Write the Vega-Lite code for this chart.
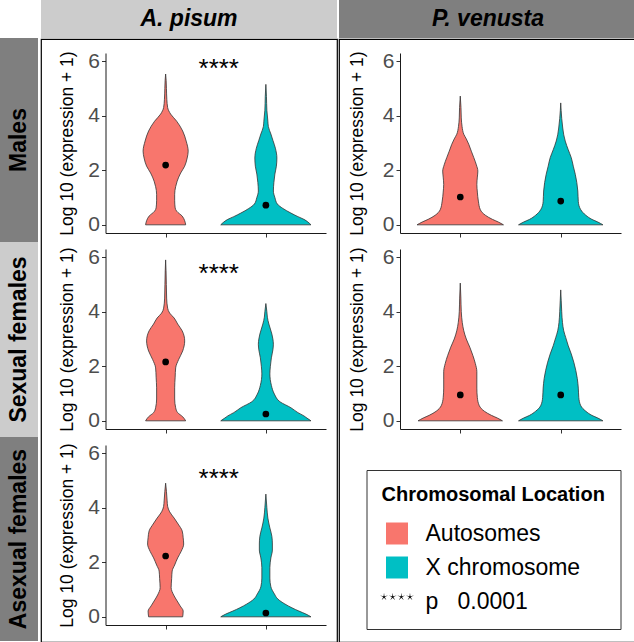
{
  "$schema": "https://vega.github.io/schema/vega-lite/v6.json",
  "padding": 0,
  "autosize": {"type": "pad"},
  "config": {
    "font": "Liberation Sans",
    "view": {"stroke": null},
    "axis": {"grid": false}
  },
  "datasets": {
    "violins": [
      {"sp":"A. pisum","sex":"Males","chrom":"Autosomes","v":0,"w":0.40},
      {"sp":"A. pisum","sex":"Males","chrom":"Autosomes","v":0.15,"w":0.38},
      {"sp":"A. pisum","sex":"Males","chrom":"Autosomes","v":0.32,"w":0.33},
      {"sp":"A. pisum","sex":"Males","chrom":"Autosomes","v":0.5,"w":0.22},
      {"sp":"A. pisum","sex":"Males","chrom":"Autosomes","v":0.62,"w":0.19},
      {"sp":"A. pisum","sex":"Males","chrom":"Autosomes","v":0.9,"w":0.18},
      {"sp":"A. pisum","sex":"Males","chrom":"Autosomes","v":1.12,"w":0.18},
      {"sp":"A. pisum","sex":"Males","chrom":"Autosomes","v":1.4,"w":0.20},
      {"sp":"A. pisum","sex":"Males","chrom":"Autosomes","v":1.6,"w":0.23},
      {"sp":"A. pisum","sex":"Males","chrom":"Autosomes","v":1.9,"w":0.30},
      {"sp":"A. pisum","sex":"Males","chrom":"Autosomes","v":2.15,"w":0.38},
      {"sp":"A. pisum","sex":"Males","chrom":"Autosomes","v":2.45,"w":0.43},
      {"sp":"A. pisum","sex":"Males","chrom":"Autosomes","v":2.7,"w":0.45},
      {"sp":"A. pisum","sex":"Males","chrom":"Autosomes","v":3.07,"w":0.41},
      {"sp":"A. pisum","sex":"Males","chrom":"Autosomes","v":3.44,"w":0.34},
      {"sp":"A. pisum","sex":"Males","chrom":"Autosomes","v":3.8,"w":0.22},
      {"sp":"A. pisum","sex":"Males","chrom":"Autosomes","v":4.06,"w":0.10},
      {"sp":"A. pisum","sex":"Males","chrom":"Autosomes","v":4.3,"w":0.04},
      {"sp":"A. pisum","sex":"Males","chrom":"Autosomes","v":4.6,"w":0.024},
      {"sp":"A. pisum","sex":"Males","chrom":"Autosomes","v":5.0,"w":0.016},
      {"sp":"A. pisum","sex":"Males","chrom":"Autosomes","v":5.3,"w":0.01},
      {"sp":"A. pisum","sex":"Males","chrom":"Autosomes","v":5.53,"w":0},

      {"sp":"A. pisum","sex":"Males","chrom":"X chromosome","v":0,"w":0.90},
      {"sp":"A. pisum","sex":"Males","chrom":"X chromosome","v":0.1,"w":0.84},
      {"sp":"A. pisum","sex":"Males","chrom":"X chromosome","v":0.2,"w":0.76},
      {"sp":"A. pisum","sex":"Males","chrom":"X chromosome","v":0.3,"w":0.64},
      {"sp":"A. pisum","sex":"Males","chrom":"X chromosome","v":0.43,"w":0.50},
      {"sp":"A. pisum","sex":"Males","chrom":"X chromosome","v":0.6,"w":0.34},
      {"sp":"A. pisum","sex":"Males","chrom":"X chromosome","v":0.76,"w":0.23},
      {"sp":"A. pisum","sex":"Males","chrom":"X chromosome","v":1.0,"w":0.18},
      {"sp":"A. pisum","sex":"Males","chrom":"X chromosome","v":1.24,"w":0.15},
      {"sp":"A. pisum","sex":"Males","chrom":"X chromosome","v":1.55,"w":0.16},
      {"sp":"A. pisum","sex":"Males","chrom":"X chromosome","v":1.86,"w":0.18},
      {"sp":"A. pisum","sex":"Males","chrom":"X chromosome","v":2.15,"w":0.21},
      {"sp":"A. pisum","sex":"Males","chrom":"X chromosome","v":2.45,"w":0.22},
      {"sp":"A. pisum","sex":"Males","chrom":"X chromosome","v":2.81,"w":0.19},
      {"sp":"A. pisum","sex":"Males","chrom":"X chromosome","v":3.1,"w":0.14},
      {"sp":"A. pisum","sex":"Males","chrom":"X chromosome","v":3.33,"w":0.10},
      {"sp":"A. pisum","sex":"Males","chrom":"X chromosome","v":3.6,"w":0.05},
      {"sp":"A. pisum","sex":"Males","chrom":"X chromosome","v":3.8,"w":0.04},
      {"sp":"A. pisum","sex":"Males","chrom":"X chromosome","v":4.2,"w":0.02},
      {"sp":"A. pisum","sex":"Males","chrom":"X chromosome","v":4.7,"w":0.012},
      {"sp":"A. pisum","sex":"Males","chrom":"X chromosome","v":5.15,"w":0},

      {"sp":"A. pisum","sex":"Sexual females","chrom":"Autosomes","v":0,"w":0.40},
      {"sp":"A. pisum","sex":"Sexual females","chrom":"Autosomes","v":0.15,"w":0.34},
      {"sp":"A. pisum","sex":"Sexual females","chrom":"Autosomes","v":0.3,"w":0.24},
      {"sp":"A. pisum","sex":"Sexual females","chrom":"Autosomes","v":0.48,"w":0.20},
      {"sp":"A. pisum","sex":"Sexual females","chrom":"Autosomes","v":0.8,"w":0.18},
      {"sp":"A. pisum","sex":"Sexual females","chrom":"Autosomes","v":1.21,"w":0.18},
      {"sp":"A. pisum","sex":"Sexual females","chrom":"Autosomes","v":1.6,"w":0.19},
      {"sp":"A. pisum","sex":"Sexual females","chrom":"Autosomes","v":1.94,"w":0.20},
      {"sp":"A. pisum","sex":"Sexual females","chrom":"Autosomes","v":2.25,"w":0.26},
      {"sp":"A. pisum","sex":"Sexual females","chrom":"Autosomes","v":2.56,"w":0.34},
      {"sp":"A. pisum","sex":"Sexual females","chrom":"Autosomes","v":2.93,"w":0.38},
      {"sp":"A. pisum","sex":"Sexual females","chrom":"Autosomes","v":3.3,"w":0.33},
      {"sp":"A. pisum","sex":"Sexual females","chrom":"Autosomes","v":3.55,"w":0.24},
      {"sp":"A. pisum","sex":"Sexual females","chrom":"Autosomes","v":3.77,"w":0.17},
      {"sp":"A. pisum","sex":"Sexual females","chrom":"Autosomes","v":3.95,"w":0.08},
      {"sp":"A. pisum","sex":"Sexual females","chrom":"Autosomes","v":4.13,"w":0.04},
      {"sp":"A. pisum","sex":"Sexual females","chrom":"Autosomes","v":4.5,"w":0.02},
      {"sp":"A. pisum","sex":"Sexual females","chrom":"Autosomes","v":5.0,"w":0.014},
      {"sp":"A. pisum","sex":"Sexual females","chrom":"Autosomes","v":5.5,"w":0.008},
      {"sp":"A. pisum","sex":"Sexual females","chrom":"Autosomes","v":5.9,"w":0},

      {"sp":"A. pisum","sex":"Sexual females","chrom":"X chromosome","v":0,"w":0.90},
      {"sp":"A. pisum","sex":"Sexual females","chrom":"X chromosome","v":0.1,"w":0.82},
      {"sp":"A. pisum","sex":"Sexual females","chrom":"X chromosome","v":0.18,"w":0.76},
      {"sp":"A. pisum","sex":"Sexual females","chrom":"X chromosome","v":0.3,"w":0.64},
      {"sp":"A. pisum","sex":"Sexual females","chrom":"X chromosome","v":0.48,"w":0.50},
      {"sp":"A. pisum","sex":"Sexual females","chrom":"X chromosome","v":0.7,"w":0.28},
      {"sp":"A. pisum","sex":"Sexual females","chrom":"X chromosome","v":0.98,"w":0.17},
      {"sp":"A. pisum","sex":"Sexual females","chrom":"X chromosome","v":1.3,"w":0.11},
      {"sp":"A. pisum","sex":"Sexual females","chrom":"X chromosome","v":1.72,"w":0.08},
      {"sp":"A. pisum","sex":"Sexual females","chrom":"X chromosome","v":2.0,"w":0.09},
      {"sp":"A. pisum","sex":"Sexual females","chrom":"X chromosome","v":2.31,"w":0.11},
      {"sp":"A. pisum","sex":"Sexual females","chrom":"X chromosome","v":2.6,"w":0.14},
      {"sp":"A. pisum","sex":"Sexual females","chrom":"X chromosome","v":2.81,"w":0.15},
      {"sp":"A. pisum","sex":"Sexual females","chrom":"X chromosome","v":3.0,"w":0.14},
      {"sp":"A. pisum","sex":"Sexual females","chrom":"X chromosome","v":3.18,"w":0.12},
      {"sp":"A. pisum","sex":"Sexual females","chrom":"X chromosome","v":3.55,"w":0.06},
      {"sp":"A. pisum","sex":"Sexual females","chrom":"X chromosome","v":3.8,"w":0.03},
      {"sp":"A. pisum","sex":"Sexual females","chrom":"X chromosome","v":4.0,"w":0.02},
      {"sp":"A. pisum","sex":"Sexual females","chrom":"X chromosome","v":4.3,"w":0},

      {"sp":"A. pisum","sex":"Asexual females","chrom":"Autosomes","v":0,"w":0.34},
      {"sp":"A. pisum","sex":"Asexual females","chrom":"Autosomes","v":0.21,"w":0.35},
      {"sp":"A. pisum","sex":"Asexual females","chrom":"Autosomes","v":0.4,"w":0.29},
      {"sp":"A. pisum","sex":"Asexual females","chrom":"Autosomes","v":0.58,"w":0.23},
      {"sp":"A. pisum","sex":"Asexual females","chrom":"Autosomes","v":0.8,"w":0.16},
      {"sp":"A. pisum","sex":"Asexual females","chrom":"Autosomes","v":1.07,"w":0.11},
      {"sp":"A. pisum","sex":"Asexual females","chrom":"Autosomes","v":1.4,"w":0.12},
      {"sp":"A. pisum","sex":"Asexual females","chrom":"Autosomes","v":1.68,"w":0.13},
      {"sp":"A. pisum","sex":"Asexual females","chrom":"Autosomes","v":1.9,"w":0.18},
      {"sp":"A. pisum","sex":"Asexual females","chrom":"Autosomes","v":2.16,"w":0.24},
      {"sp":"A. pisum","sex":"Asexual females","chrom":"Autosomes","v":2.4,"w":0.31},
      {"sp":"A. pisum","sex":"Asexual females","chrom":"Autosomes","v":2.67,"w":0.36},
      {"sp":"A. pisum","sex":"Asexual females","chrom":"Autosomes","v":2.9,"w":0.35},
      {"sp":"A. pisum","sex":"Asexual females","chrom":"Autosomes","v":3.15,"w":0.33},
      {"sp":"A. pisum","sex":"Asexual females","chrom":"Autosomes","v":3.4,"w":0.25},
      {"sp":"A. pisum","sex":"Asexual females","chrom":"Autosomes","v":3.62,"w":0.17},
      {"sp":"A. pisum","sex":"Asexual females","chrom":"Autosomes","v":3.85,"w":0.08},
      {"sp":"A. pisum","sex":"Asexual females","chrom":"Autosomes","v":4.05,"w":0.04},
      {"sp":"A. pisum","sex":"Asexual females","chrom":"Autosomes","v":4.25,"w":0.03},
      {"sp":"A. pisum","sex":"Asexual females","chrom":"Autosomes","v":4.6,"w":0.016},
      {"sp":"A. pisum","sex":"Asexual females","chrom":"Autosomes","v":4.9,"w":0},

      {"sp":"A. pisum","sex":"Asexual females","chrom":"X chromosome","v":0,"w":0.90},
      {"sp":"A. pisum","sex":"Asexual females","chrom":"X chromosome","v":0.1,"w":0.80},
      {"sp":"A. pisum","sex":"Asexual females","chrom":"X chromosome","v":0.21,"w":0.66},
      {"sp":"A. pisum","sex":"Asexual females","chrom":"X chromosome","v":0.33,"w":0.52},
      {"sp":"A. pisum","sex":"Asexual females","chrom":"X chromosome","v":0.47,"w":0.38},
      {"sp":"A. pisum","sex":"Asexual females","chrom":"X chromosome","v":0.65,"w":0.24},
      {"sp":"A. pisum","sex":"Asexual females","chrom":"X chromosome","v":0.84,"w":0.17},
      {"sp":"A. pisum","sex":"Asexual females","chrom":"X chromosome","v":1.1,"w":0.10},
      {"sp":"A. pisum","sex":"Asexual females","chrom":"X chromosome","v":1.42,"w":0.08},
      {"sp":"A. pisum","sex":"Asexual females","chrom":"X chromosome","v":1.8,"w":0.08},
      {"sp":"A. pisum","sex":"Asexual females","chrom":"X chromosome","v":2.16,"w":0.10},
      {"sp":"A. pisum","sex":"Asexual females","chrom":"X chromosome","v":2.45,"w":0.13},
      {"sp":"A. pisum","sex":"Asexual females","chrom":"X chromosome","v":2.67,"w":0.13},
      {"sp":"A. pisum","sex":"Asexual females","chrom":"X chromosome","v":2.95,"w":0.12},
      {"sp":"A. pisum","sex":"Asexual females","chrom":"X chromosome","v":3.26,"w":0.08},
      {"sp":"A. pisum","sex":"Asexual females","chrom":"X chromosome","v":3.62,"w":0.04},
      {"sp":"A. pisum","sex":"Asexual females","chrom":"X chromosome","v":4.0,"w":0.02},
      {"sp":"A. pisum","sex":"Asexual females","chrom":"X chromosome","v":4.5,"w":0},

      {"sp":"P. venusta","sex":"Males","chrom":"Autosomes","v":0,"w":0.86},
      {"sp":"P. venusta","sex":"Males","chrom":"Autosomes","v":0.1,"w":0.76},
      {"sp":"P. venusta","sex":"Males","chrom":"Autosomes","v":0.2,"w":0.64},
      {"sp":"P. venusta","sex":"Males","chrom":"Autosomes","v":0.35,"w":0.50},
      {"sp":"P. venusta","sex":"Males","chrom":"Autosomes","v":0.55,"w":0.40},
      {"sp":"P. venusta","sex":"Males","chrom":"Autosomes","v":0.87,"w":0.36},
      {"sp":"P. venusta","sex":"Males","chrom":"Autosomes","v":1.2,"w":0.34},
      {"sp":"P. venusta","sex":"Males","chrom":"Autosomes","v":1.48,"w":0.33},
      {"sp":"P. venusta","sex":"Males","chrom":"Autosomes","v":1.75,"w":0.34},
      {"sp":"P. venusta","sex":"Males","chrom":"Autosomes","v":1.97,"w":0.35},
      {"sp":"P. venusta","sex":"Males","chrom":"Autosomes","v":2.2,"w":0.32},
      {"sp":"P. venusta","sex":"Males","chrom":"Autosomes","v":2.46,"w":0.27},
      {"sp":"P. venusta","sex":"Males","chrom":"Autosomes","v":2.7,"w":0.22},
      {"sp":"P. venusta","sex":"Males","chrom":"Autosomes","v":2.95,"w":0.17},
      {"sp":"P. venusta","sex":"Males","chrom":"Autosomes","v":3.15,"w":0.12},
      {"sp":"P. venusta","sex":"Males","chrom":"Autosomes","v":3.32,"w":0.07},
      {"sp":"P. venusta","sex":"Males","chrom":"Autosomes","v":3.6,"w":0.036},
      {"sp":"P. venusta","sex":"Males","chrom":"Autosomes","v":3.92,"w":0.02},
      {"sp":"P. venusta","sex":"Males","chrom":"Autosomes","v":4.3,"w":0.014},
      {"sp":"P. venusta","sex":"Males","chrom":"Autosomes","v":4.72,"w":0},

      {"sp":"P. venusta","sex":"Males","chrom":"X chromosome","v":0,"w":0.84},
      {"sp":"P. venusta","sex":"Males","chrom":"X chromosome","v":0.1,"w":0.74},
      {"sp":"P. venusta","sex":"Males","chrom":"X chromosome","v":0.2,"w":0.62},
      {"sp":"P. venusta","sex":"Males","chrom":"X chromosome","v":0.35,"w":0.50},
      {"sp":"P. venusta","sex":"Males","chrom":"X chromosome","v":0.55,"w":0.40},
      {"sp":"P. venusta","sex":"Males","chrom":"X chromosome","v":0.85,"w":0.35},
      {"sp":"P. venusta","sex":"Males","chrom":"X chromosome","v":1.24,"w":0.34},
      {"sp":"P. venusta","sex":"Males","chrom":"X chromosome","v":1.55,"w":0.32},
      {"sp":"P. venusta","sex":"Males","chrom":"X chromosome","v":1.85,"w":0.29},
      {"sp":"P. venusta","sex":"Males","chrom":"X chromosome","v":2.15,"w":0.25},
      {"sp":"P. venusta","sex":"Males","chrom":"X chromosome","v":2.46,"w":0.21},
      {"sp":"P. venusta","sex":"Males","chrom":"X chromosome","v":2.75,"w":0.15},
      {"sp":"P. venusta","sex":"Males","chrom":"X chromosome","v":3.07,"w":0.09},
      {"sp":"P. venusta","sex":"Males","chrom":"X chromosome","v":3.3,"w":0.06},
      {"sp":"P. venusta","sex":"Males","chrom":"X chromosome","v":3.55,"w":0.04},
      {"sp":"P. venusta","sex":"Males","chrom":"X chromosome","v":3.9,"w":0.02},
      {"sp":"P. venusta","sex":"Males","chrom":"X chromosome","v":4.47,"w":0},

      {"sp":"P. venusta","sex":"Sexual females","chrom":"Autosomes","v":0,"w":0.84},
      {"sp":"P. venusta","sex":"Sexual females","chrom":"Autosomes","v":0.1,"w":0.74},
      {"sp":"P. venusta","sex":"Sexual females","chrom":"Autosomes","v":0.2,"w":0.62},
      {"sp":"P. venusta","sex":"Sexual females","chrom":"Autosomes","v":0.35,"w":0.48},
      {"sp":"P. venusta","sex":"Sexual females","chrom":"Autosomes","v":0.55,"w":0.38},
      {"sp":"P. venusta","sex":"Sexual females","chrom":"Autosomes","v":0.85,"w":0.34},
      {"sp":"P. venusta","sex":"Sexual females","chrom":"Autosomes","v":1.2,"w":0.33},
      {"sp":"P. venusta","sex":"Sexual females","chrom":"Autosomes","v":1.5,"w":0.33},
      {"sp":"P. venusta","sex":"Sexual females","chrom":"Autosomes","v":1.8,"w":0.33},
      {"sp":"P. venusta","sex":"Sexual females","chrom":"Autosomes","v":2.1,"w":0.30},
      {"sp":"P. venusta","sex":"Sexual females","chrom":"Autosomes","v":2.4,"w":0.25},
      {"sp":"P. venusta","sex":"Sexual females","chrom":"Autosomes","v":2.7,"w":0.19},
      {"sp":"P. venusta","sex":"Sexual females","chrom":"Autosomes","v":3.0,"w":0.12},
      {"sp":"P. venusta","sex":"Sexual females","chrom":"Autosomes","v":3.3,"w":0.07},
      {"sp":"P. venusta","sex":"Sexual females","chrom":"Autosomes","v":3.6,"w":0.04},
      {"sp":"P. venusta","sex":"Sexual females","chrom":"Autosomes","v":4.0,"w":0.02},
      {"sp":"P. venusta","sex":"Sexual females","chrom":"Autosomes","v":4.5,"w":0.012},
      {"sp":"P. venusta","sex":"Sexual females","chrom":"Autosomes","v":5.05,"w":0},

      {"sp":"P. venusta","sex":"Sexual females","chrom":"X chromosome","v":0,"w":0.84},
      {"sp":"P. venusta","sex":"Sexual females","chrom":"X chromosome","v":0.1,"w":0.74},
      {"sp":"P. venusta","sex":"Sexual females","chrom":"X chromosome","v":0.2,"w":0.62},
      {"sp":"P. venusta","sex":"Sexual females","chrom":"X chromosome","v":0.35,"w":0.50},
      {"sp":"P. venusta","sex":"Sexual females","chrom":"X chromosome","v":0.55,"w":0.40},
      {"sp":"P. venusta","sex":"Sexual females","chrom":"X chromosome","v":0.85,"w":0.36},
      {"sp":"P. venusta","sex":"Sexual females","chrom":"X chromosome","v":1.2,"w":0.35},
      {"sp":"P. venusta","sex":"Sexual females","chrom":"X chromosome","v":1.55,"w":0.33},
      {"sp":"P. venusta","sex":"Sexual females","chrom":"X chromosome","v":1.85,"w":0.30},
      {"sp":"P. venusta","sex":"Sexual females","chrom":"X chromosome","v":2.15,"w":0.26},
      {"sp":"P. venusta","sex":"Sexual females","chrom":"X chromosome","v":2.45,"w":0.21},
      {"sp":"P. venusta","sex":"Sexual females","chrom":"X chromosome","v":2.75,"w":0.15},
      {"sp":"P. venusta","sex":"Sexual females","chrom":"X chromosome","v":3.05,"w":0.10},
      {"sp":"P. venusta","sex":"Sexual females","chrom":"X chromosome","v":3.3,"w":0.06},
      {"sp":"P. venusta","sex":"Sexual females","chrom":"X chromosome","v":3.6,"w":0.035},
      {"sp":"P. venusta","sex":"Sexual females","chrom":"X chromosome","v":4.0,"w":0.02},
      {"sp":"P. venusta","sex":"Sexual females","chrom":"X chromosome","v":4.4,"w":0.01},
      {"sp":"P. venusta","sex":"Sexual females","chrom":"X chromosome","v":4.8,"w":0}
    ],
    "medians": [
      {"sp":"A. pisum","sex":"Males","chrom":"Autosomes","v":2.19},
      {"sp":"A. pisum","sex":"Males","chrom":"X chromosome","v":0.72},
      {"sp":"A. pisum","sex":"Sexual females","chrom":"Autosomes","v":2.16},
      {"sp":"A. pisum","sex":"Sexual females","chrom":"X chromosome","v":0.25},
      {"sp":"A. pisum","sex":"Asexual females","chrom":"Autosomes","v":2.23},
      {"sp":"A. pisum","sex":"Asexual females","chrom":"X chromosome","v":0.14},
      {"sp":"P. venusta","sex":"Males","chrom":"Autosomes","v":1.02},
      {"sp":"P. venusta","sex":"Males","chrom":"X chromosome","v":0.87},
      {"sp":"P. venusta","sex":"Sexual females","chrom":"Autosomes","v":0.95},
      {"sp":"P. venusta","sex":"Sexual females","chrom":"X chromosome","v":0.95}
    ],
    "stars": [
      {"sp":"A. pisum","sex":"Males","label":"****","v":5.7},
      {"sp":"A. pisum","sex":"Sexual females","label":"****","v":5.37},
      {"sp":"A. pisum","sex":"Asexual females","label":"****","v":5.04}
    ]
  },
  "spacing": 2,
  "resolve": {"scale": {"color": "independent", "shape": "independent"}, "legend": {"color": "independent", "shape": "independent"}},
  "hconcat": [
    {
      "spacing": 0,
      "vconcat": [
        {"width": 38, "height": 38, "data": {"values": [{"t": ""}]}, "mark": {"type": "text"}, "encoding": {"text": {"field": "t"}}},
        {"width": 38, "height": 204, "view": {"fill": "#7F7F7F", "stroke": null}, "data": {"values": [{"sex": "Males"}]}, "mark": {"type": "text", "angle": 270, "fontSize": 23, "fontWeight": "bold", "color": "black"}, "encoding": {"text": {"field": "sex"}}},
        {"width": 38, "height": 195, "view": {"fill": "#CCCCCC", "stroke": null}, "data": {"values": [{"sex": "Sexual females"}]}, "mark": {"type": "text", "angle": 270, "fontSize": 23, "fontWeight": "bold", "color": "black"}, "encoding": {"text": {"field": "sex"}}},
        {"width": 38, "height": 204, "view": {"fill": "#7F7F7F", "stroke": null}, "data": {"values": [{"sex": "Asexual females"}]}, "mark": {"type": "text", "angle": 270, "fontSize": 23, "fontWeight": "bold", "color": "black"}, "encoding": {"text": {"field": "sex"}}}
      ]
    },
    {
      "spacing": 0,
      "resolve": {"scale": {"color": "independent", "shape": "independent"}, "legend": {"color": "independent", "shape": "independent"}},
      "hconcat": [
        {
          "spacing": 0,
          "resolve": {"scale": {"color": "independent", "shape": "independent"}, "legend": {"color": "independent", "shape": "independent"}},
          "vconcat": [
            {"width": 296, "height": 38, "view": {"fill": "#CCCCCC", "stroke": null}, "data": {"values": [{"species": "A. pisum"}]}, "mark": {"type": "text", "fontSize": 23, "fontWeight": "bold", "fontStyle": "italic", "color": "black"}, "encoding": {"text": {"field": "species"}}},
            {
              "width": 296, "height": 603,
              "view": {"stroke": "black", "strokeWidth": 1.2, "fill": "white"},
              "resolve": {"scale": {"x": "independent", "y": "independent"}},
              "layer": [
                {
                  "resolve": {"scale": {"x": "independent"}},
                  "encoding": {"y": {"field": "v", "type": "quantitative", "scale": {"domain": [-0.3, 6.3], "range": [194, 14], "nice": false, "zero": false}, "axis": {"orient": "left", "offset": -64.5, "values": [0, 2, 4, 6], "title": "Log 10 (expression + 1)", "titleFontSize": 17.5, "titleFontWeight": "normal", "titleColor": "black", "titlePadding": 11, "labelFontSize": 21, "labelColor": "#4D4D4D", "labelPadding": 2, "tickSize": 4, "tickColor": "#333333", "domainColor": "#1A1A1A", "grid": false}}},
                  "layer": [
                    {"data": {"name": "violins"}, "transform": [{"filter": "datum.sp == 'A. pisum' && datum.sex == 'Males' && datum.chrom == 'Autosomes'"}],
                     "mark": {"type": "area", "orient": "horizontal", "interpolate": "monotone", "stroke": "#333333", "strokeWidth": 0.8, "opacity": 1},
                     "encoding": {"x": {"field": "w", "type": "quantitative", "stack": "center", "scale": {"domain": [-0.375, 1.825], "range": [64.5, 285], "nice": false, "zero": false}, "axis": null},
                                  "color": {"field": "chrom", "type": "nominal", "scale": {"domain": ["Autosomes", "X chromosome", "p\u00a0\u00a0\u00a00.0001"], "range": ["#F8766D", "#00BFC4", "#000000"]}, "legend": null}}},
                    {"data": {"name": "violins"}, "transform": [{"filter": "datum.sp == 'A. pisum' && datum.sex == 'Males' && datum.chrom == 'X chromosome'"}],
                     "mark": {"type": "area", "orient": "horizontal", "interpolate": "monotone", "stroke": "#333333", "strokeWidth": 0.8, "opacity": 1},
                     "encoding": {"x": {"field": "w", "type": "quantitative", "stack": "center", "scale": {"domain": [-1.15, 1.05], "range": [64.5, 285], "nice": false, "zero": false}, "axis": null},
                                  "color": {"field": "chrom", "type": "nominal", "scale": {"domain": ["Autosomes", "X chromosome", "p\u00a0\u00a0\u00a00.0001"], "range": ["#F8766D", "#00BFC4", "#000000"]}, "legend": null}}},
                    {"data": {"name": "medians"}, "transform": [{"filter": "datum.sp == 'A. pisum' && datum.sex == 'Males'"}],
                     "mark": {"type": "point", "filled": true, "color": "black", "size": 45, "opacity": 1},
                     "encoding": {"x": {"field": "chrom", "type": "nominal", "scale": {"type": "point", "padding": 0.6, "domain": ["Autosomes", "X chromosome"], "range": [64.5, 285]}, "axis": {"orient": "bottom", "offset": -409, "labels": false, "title": null, "tickSize": 4, "tickColor": "#333333", "domainColor": "#1A1A1A", "grid": false}}}},
                    {"data": {"name": "stars"}, "transform": [{"filter": "datum.sp == 'A. pisum' && datum.sex == 'Males'"}],
                     "mark": {"type": "text", "fontSize": 26, "color": "black", "baseline": "middle", "dx": 3},
                     "encoding": {"x": {"field": "label", "type": "nominal", "scale": {"type": "point", "padding": 0.5, "range": [64.5, 285]}, "axis": null}, "text": {"field": "label"}}}
                  ]
                },
                {
                  "resolve": {"scale": {"x": "independent"}},
                  "encoding": {"y": {"field": "v", "type": "quantitative", "scale": {"domain": [-0.3, 6.3], "range": [390, 210], "nice": false, "zero": false}, "axis": {"orient": "left", "offset": -64.5, "values": [0, 2, 4, 6], "title": "Log 10 (expression + 1)", "titleFontSize": 17.5, "titleFontWeight": "normal", "titleColor": "black", "titlePadding": 11, "labelFontSize": 21, "labelColor": "#4D4D4D", "labelPadding": 2, "tickSize": 4, "tickColor": "#333333", "domainColor": "#1A1A1A", "grid": false}}},
                  "layer": [
                    {"data": {"name": "violins"}, "transform": [{"filter": "datum.sp == 'A. pisum' && datum.sex == 'Sexual females' && datum.chrom == 'Autosomes'"}],
                     "mark": {"type": "area", "orient": "horizontal", "interpolate": "monotone", "stroke": "#333333", "strokeWidth": 0.8, "opacity": 1},
                     "encoding": {"x": {"field": "w", "type": "quantitative", "stack": "center", "scale": {"domain": [-0.4, 1.8], "range": [64.5, 285], "nice": false, "zero": false}, "axis": null},
                                  "color": {"field": "chrom", "type": "nominal", "scale": {"domain": ["Autosomes", "X chromosome", "p\u00a0\u00a0\u00a00.0001"], "range": ["#F8766D", "#00BFC4", "#000000"]}, "legend": null}}},
                    {"data": {"name": "violins"}, "transform": [{"filter": "datum.sp == 'A. pisum' && datum.sex == 'Sexual females' && datum.chrom == 'X chromosome'"}],
                     "mark": {"type": "area", "orient": "horizontal", "interpolate": "monotone", "stroke": "#333333", "strokeWidth": 0.8, "opacity": 1},
                     "encoding": {"x": {"field": "w", "type": "quantitative", "stack": "center", "scale": {"domain": [-1.15, 1.05], "range": [64.5, 285], "nice": false, "zero": false}, "axis": null},
                                  "color": {"field": "chrom", "type": "nominal", "scale": {"domain": ["Autosomes", "X chromosome", "p\u00a0\u00a0\u00a00.0001"], "range": ["#F8766D", "#00BFC4", "#000000"]}, "legend": null}}},
                    {"data": {"name": "medians"}, "transform": [{"filter": "datum.sp == 'A. pisum' && datum.sex == 'Sexual females'"}],
                     "mark": {"type": "point", "filled": true, "color": "black", "size": 45, "opacity": 1},
                     "encoding": {"x": {"field": "chrom", "type": "nominal", "scale": {"type": "point", "padding": 0.6, "domain": ["Autosomes", "X chromosome"], "range": [64.5, 285]}, "axis": {"orient": "bottom", "offset": -213, "labels": false, "title": null, "tickSize": 4, "tickColor": "#333333", "domainColor": "#1A1A1A", "grid": false}}}},
                    {"data": {"name": "stars"}, "transform": [{"filter": "datum.sp == 'A. pisum' && datum.sex == 'Sexual females'"}],
                     "mark": {"type": "text", "fontSize": 26, "color": "black", "baseline": "middle", "dx": 3},
                     "encoding": {"x": {"field": "label", "type": "nominal", "scale": {"type": "point", "padding": 0.5, "range": [64.5, 285]}, "axis": null}, "text": {"field": "label"}}}
                  ]
                },
                {
                  "resolve": {"scale": {"x": "independent"}},
                  "encoding": {"y": {"field": "v", "type": "quantitative", "scale": {"domain": [-0.3, 6.3], "range": [586, 406], "nice": false, "zero": false}, "axis": {"orient": "left", "offset": -64.5, "values": [0, 2, 4, 6], "title": "Log 10 (expression + 1)", "titleFontSize": 17.5, "titleFontWeight": "normal", "titleColor": "black", "titlePadding": 11, "labelFontSize": 21, "labelColor": "#4D4D4D", "labelPadding": 2, "tickSize": 4, "tickColor": "#333333", "domainColor": "#1A1A1A", "grid": false}}},
                  "layer": [
                    {"data": {"name": "violins"}, "transform": [{"filter": "datum.sp == 'A. pisum' && datum.sex == 'Asexual females' && datum.chrom == 'Autosomes'"}],
                     "mark": {"type": "area", "orient": "horizontal", "interpolate": "monotone", "stroke": "#333333", "strokeWidth": 0.8, "opacity": 1},
                     "encoding": {"x": {"field": "w", "type": "quantitative", "stack": "center", "scale": {"domain": [-0.42, 1.78], "range": [64.5, 285], "nice": false, "zero": false}, "axis": null},
                                  "color": {"field": "chrom", "type": "nominal", "scale": {"domain": ["Autosomes", "X chromosome", "p\u00a0\u00a0\u00a00.0001"], "range": ["#F8766D", "#00BFC4", "#000000"]}, "legend": null}}},
                    {"data": {"name": "violins"}, "transform": [{"filter": "datum.sp == 'A. pisum' && datum.sex == 'Asexual females' && datum.chrom == 'X chromosome'"}],
                     "mark": {"type": "area", "orient": "horizontal", "interpolate": "monotone", "stroke": "#333333", "strokeWidth": 0.8, "opacity": 1},
                     "encoding": {"x": {"field": "w", "type": "quantitative", "stack": "center", "scale": {"domain": [-1.15, 1.05], "range": [64.5, 285], "nice": false, "zero": false}, "axis": null},
                                  "color": {"field": "chrom", "type": "nominal", "scale": {"domain": ["Autosomes", "X chromosome", "p\u00a0\u00a0\u00a00.0001"], "range": ["#F8766D", "#00BFC4", "#000000"]}, "legend": null}}},
                    {"data": {"name": "medians"}, "transform": [{"filter": "datum.sp == 'A. pisum' && datum.sex == 'Asexual females'"}],
                     "mark": {"type": "point", "filled": true, "color": "black", "size": 45, "opacity": 1},
                     "encoding": {"x": {"field": "chrom", "type": "nominal", "scale": {"type": "point", "padding": 0.6, "domain": ["Autosomes", "X chromosome"], "range": [64.5, 285]}, "axis": {"orient": "bottom", "offset": -17, "labels": false, "title": null, "tickSize": 4, "tickColor": "#333333", "domainColor": "#1A1A1A", "grid": false}}}},
                    {"data": {"name": "stars"}, "transform": [{"filter": "datum.sp == 'A. pisum' && datum.sex == 'Asexual females'"}],
                     "mark": {"type": "text", "fontSize": 26, "color": "black", "baseline": "middle", "dx": 3},
                     "encoding": {"x": {"field": "label", "type": "nominal", "scale": {"type": "point", "padding": 0.5, "range": [64.5, 285]}, "axis": null}, "text": {"field": "label"}}}
                  ]
                }
              ]
            }
          ]
        },
        {
          "spacing": 0,
          "resolve": {"scale": {"color": "independent", "shape": "independent"}, "legend": {"color": "independent", "shape": "independent"}},
          "vconcat": [
            {"width": 298, "height": 38, "view": {"fill": "#7F7F7F", "stroke": null}, "data": {"values": [{"species": "P. venusta"}]}, "mark": {"type": "text", "fontSize": 23, "fontWeight": "bold", "fontStyle": "italic", "color": "black"}, "encoding": {"text": {"field": "species"}}},
            {
              "width": 297, "height": 603,
              "view": {"stroke": "black", "strokeWidth": 1.2, "fill": "white"},
              "resolve": {"scale": {"x": "independent", "y": "independent"}},
              "layer": [
                {
                  "resolve": {"scale": {"x": "independent"}},
                  "encoding": {"y": {"field": "v", "type": "quantitative", "scale": {"domain": [-0.3, 6.3], "range": [194, 14], "nice": false, "zero": false}, "axis": {"orient": "left", "offset": -61, "values": [0, 2, 4, 6], "title": "Log 10 (expression + 1)", "titleFontSize": 17.5, "titleFontWeight": "normal", "titleColor": "black", "titlePadding": 16, "labelFontSize": 21, "labelColor": "#4D4D4D", "labelPadding": 2, "tickSize": 4, "tickColor": "#333333", "domainColor": "#1A1A1A", "grid": false}}},
                  "layer": [
                    {"data": {"name": "violins"}, "transform": [{"filter": "datum.sp == 'P. venusta' && datum.sex == 'Males' && datum.chrom == 'Autosomes'"}],
                     "mark": {"type": "area", "orient": "horizontal", "interpolate": "monotone", "stroke": "#333333", "strokeWidth": 0.8, "opacity": 1},
                     "encoding": {"x": {"field": "w", "type": "quantitative", "stack": "center", "scale": {"domain": [-0.17, 2.03], "range": [61, 282], "nice": false, "zero": false}, "axis": null},
                                  "color": {"field": "chrom", "type": "nominal", "scale": {"domain": ["Autosomes", "X chromosome", "p\u00a0\u00a0\u00a00.0001"], "range": ["#F8766D", "#00BFC4", "#000000"]}}}},
                    {"data": {"name": "violins"}, "transform": [{"filter": "datum.sp == 'P. venusta' && datum.sex == 'Males' && datum.chrom == 'X chromosome'"}],
                     "mark": {"type": "area", "orient": "horizontal", "interpolate": "monotone", "stroke": "#333333", "strokeWidth": 0.8, "opacity": 1},
                     "encoding": {"x": {"field": "w", "type": "quantitative", "stack": "center", "scale": {"domain": [-1.18, 1.02], "range": [61, 282], "nice": false, "zero": false}, "axis": null},
                                  "color": {"field": "chrom", "type": "nominal", "scale": {"domain": ["Autosomes", "X chromosome", "p\u00a0\u00a0\u00a00.0001"], "range": ["#F8766D", "#00BFC4", "#000000"]}}}},
                    {"data": {"name": "medians"}, "transform": [{"filter": "datum.sp == 'P. venusta' && datum.sex == 'Males'"}],
                     "mark": {"type": "point", "filled": true, "color": "black", "size": 45, "opacity": 1},
                     "encoding": {"x": {"field": "chrom", "type": "nominal", "scale": {"type": "point", "padding": 0.6, "domain": ["Autosomes", "X chromosome"], "range": [61, 282]}, "axis": {"orient": "bottom", "offset": -409, "labels": false, "title": null, "tickSize": 4, "tickColor": "#333333", "domainColor": "#1A1A1A", "grid": false}}}}
                  ]
                },
                {
                  "resolve": {"scale": {"x": "independent"}},
                  "encoding": {"y": {"field": "v", "type": "quantitative", "scale": {"domain": [-0.3, 6.3], "range": [390, 210], "nice": false, "zero": false}, "axis": {"orient": "left", "offset": -61, "values": [0, 2, 4, 6], "title": "Log 10 (expression + 1)", "titleFontSize": 17.5, "titleFontWeight": "normal", "titleColor": "black", "titlePadding": 16, "labelFontSize": 21, "labelColor": "#4D4D4D", "labelPadding": 2, "tickSize": 4, "tickColor": "#333333", "domainColor": "#1A1A1A", "grid": false}}},
                  "layer": [
                    {"data": {"name": "violins"}, "transform": [{"filter": "datum.sp == 'P. venusta' && datum.sex == 'Sexual females' && datum.chrom == 'Autosomes'"}],
                     "mark": {"type": "area", "orient": "horizontal", "interpolate": "monotone", "stroke": "#333333", "strokeWidth": 0.8, "opacity": 1},
                     "encoding": {"x": {"field": "w", "type": "quantitative", "stack": "center", "scale": {"domain": [-0.18, 2.02], "range": [61, 282], "nice": false, "zero": false}, "axis": null},
                                  "color": {"field": "chrom", "type": "nominal", "scale": {"domain": ["Autosomes", "X chromosome", "p\u00a0\u00a0\u00a00.0001"], "range": ["#F8766D", "#00BFC4", "#000000"]}}}},
                    {"data": {"name": "violins"}, "transform": [{"filter": "datum.sp == 'P. venusta' && datum.sex == 'Sexual females' && datum.chrom == 'X chromosome'"}],
                     "mark": {"type": "area", "orient": "horizontal", "interpolate": "monotone", "stroke": "#333333", "strokeWidth": 0.8, "opacity": 1},
                     "encoding": {"x": {"field": "w", "type": "quantitative", "stack": "center", "scale": {"domain": [-1.18, 1.02], "range": [61, 282], "nice": false, "zero": false}, "axis": null},
                                  "color": {"field": "chrom", "type": "nominal", "scale": {"domain": ["Autosomes", "X chromosome", "p\u00a0\u00a0\u00a00.0001"], "range": ["#F8766D", "#00BFC4", "#000000"]}}}},
                    {"data": {"name": "medians"}, "transform": [{"filter": "datum.sp == 'P. venusta' && datum.sex == 'Sexual females'"}],
                     "mark": {"type": "point", "filled": true, "color": "black", "size": 45, "opacity": 1},
                     "encoding": {"x": {"field": "chrom", "type": "nominal", "scale": {"type": "point", "padding": 0.6, "domain": ["Autosomes", "X chromosome"], "range": [61, 282]}, "axis": {"orient": "bottom", "offset": -213, "labels": false, "title": null, "tickSize": 4, "tickColor": "#333333", "domainColor": "#1A1A1A", "grid": false}}}}
                  ]
                },
                {
                  "data": {"name": "medians"},
                  "transform": [{"filter": "false"}],
                  "mark": {"type": "point", "filled": true, "opacity": 1},
                  "encoding": {
                    "color": {"field": "chrom", "type": "nominal", "scale": {"domain": ["Autosomes", "X chromosome", "p\u00a0\u00a0\u00a00.0001"], "range": ["#F8766D", "#00BFC4", "#000000"]},
                      "legend": {"title": "Chromosomal Location", "orient": "none", "legendX": 27.5, "legendY": 431, "direction": "vertical", "padding": 15, "strokeColor": "#333333", "fillColor": "white", "titleFontSize": 20, "titleFontWeight": "bold", "titleColor": "black", "titlePadding": 17, "titleLimit": 400, "labelFontSize": 23, "labelColor": "black", "labelOffset": 17, "labelLimit": 400, "symbolSize": 484, "symbolOffset": 4, "symbolStrokeWidth": 0, "symbolStrokeColor": "transparent", "symbolOpacity": 1, "rowPadding": 10}},
                    "shape": {"field": "chrom", "type": "nominal", "scale": {"domain": ["Autosomes", "X chromosome", "p\u00a0\u00a0\u00a00.0001"], "range": ["square", "square", "M-1.18,-0.8L-1.139,-0.477L-0.819,-0.537L-1.113,-0.398L-0.957,-0.113L-1.18,-0.35L-1.403,-0.113L-1.247,-0.398L-1.541,-0.537L-1.221,-0.477Z M-0.39,-0.8L-0.349,-0.477L-0.029,-0.537L-0.323,-0.398L-0.167,-0.113L-0.39,-0.35L-0.613,-0.113L-0.457,-0.398L-0.751,-0.537L-0.431,-0.477Z M0.39,-0.8L0.431,-0.477L0.751,-0.537L0.457,-0.398L0.613,-0.113L0.39,-0.35L0.167,-0.113L0.323,-0.398L0.029,-0.537L0.349,-0.477Z M1.18,-0.8L1.221,-0.477L1.541,-0.537L1.247,-0.398L1.403,-0.113L1.18,-0.35L0.957,-0.113L1.113,-0.398L0.819,-0.537L1.139,-0.477Z"]},
                      "legend": {"title": "Chromosomal Location", "orient": "none", "legendX": 27.5, "legendY": 431, "direction": "vertical", "padding": 15, "strokeColor": "#333333", "fillColor": "white", "titleFontSize": 20, "titleFontWeight": "bold", "titleColor": "black", "titlePadding": 17, "titleLimit": 400, "labelFontSize": 23, "labelColor": "black", "labelOffset": 17, "labelLimit": 400, "symbolSize": 484, "symbolOffset": 4, "symbolStrokeWidth": 0, "symbolStrokeColor": "transparent", "symbolOpacity": 1, "rowPadding": 10}}
                  }
                }
              ]
            }
          ]
        }
      ]
    }
  ]
}
